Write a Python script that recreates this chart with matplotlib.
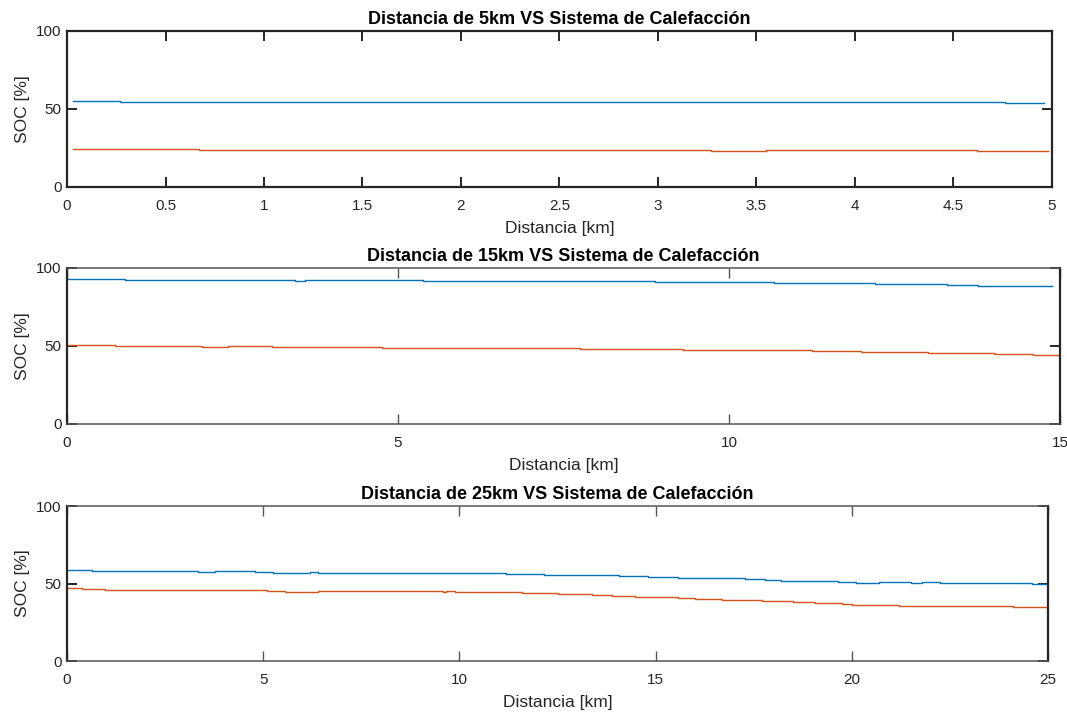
import matplotlib.pyplot as plt
import numpy as np

plt.rcParams["font.family"] = ["Liberation Sans", "DejaVu Sans"]

# --- DATA (step profiles) ---
# 5 km
d5_x_blue = [0.03, 0.27, 0.85, 4.76, 4.96]
d5_soc_blue = [55.0, 54.6, 54.2, 53.8, 53.8]
d5_x_orange = [0.03, 0.24, 0.67, 3.27, 3.55, 4.62, 4.98]
d5_soc_orange = [24.5, 24.1, 23.7, 23.3, 23.7, 23.3, 23.3]

# 15 km
d15_x_blue = [0.0, 0.88, 3.45, 3.6, 4.79, 5.38, 6.5, 6.6, 8.88, 10.68, 12.2, 13.3, 13.76, 14.6, 14.88]
d15_soc_blue = [92.9, 92.4, 91.9, 92.4, 92.0, 91.6, 91.9, 91.6, 91.1, 90.5, 89.8, 89.2, 88.7, 88.2, 88.2]
d15_x_orange = [0.0, 0.73, 2.04, 2.43, 3.1, 4.76, 5.29, 7.75, 8.0, 9.3, 11.25, 12.0, 13.0, 13.46, 14.0, 14.6, 14.97]
d15_soc_orange = [50.8, 50.1, 49.5, 50.0, 49.4, 48.9, 48.4, 48.0, 47.9, 47.4, 46.8, 46.3, 45.8, 45.3, 44.9, 44.3, 44.3]

# 25 km
d25_x_blue = [0.0, 0.63, 3.35, 3.77, 4.79, 5.26, 6.2, 6.4, 8.87, 11.2, 12.16, 13.2, 14.07, 14.8, 15.57,
              17.28, 17.79, 18.2, 18.93, 19.65, 20.1, 20.7, 21.5, 21.8, 22.25, 24.6, 25.0]
d25_soc_blue = [58.7, 58.1, 57.5, 58.1, 57.5, 57.0, 57.4, 57.1, 56.7, 56.2, 55.8, 55.3, 54.8, 54.2, 53.6,
                52.9, 52.5, 51.8, 51.4, 50.8, 50.3, 50.8, 50.3, 50.8, 50.1, 49.5, 49.5]
d25_x_orange = [0.0, 0.37, 0.97, 5.1, 5.55, 6.4, 9.58, 9.66, 9.89, 11.6, 12.5, 13.38, 13.9, 14.47, 14.93,
                15.57, 16.0, 16.7, 17.7, 18.5, 19.05, 19.1, 19.75, 20.0, 20.5, 21.2, 24.1, 25.0]
d25_soc_orange = [47.0, 46.3, 45.8, 44.9, 44.5, 44.9, 44.4, 44.9, 44.3, 43.7, 43.2, 42.6, 42.1, 41.5, 41.1,
                  40.5, 40.0, 39.6, 38.7, 38.0, 37.6, 37.4, 36.8, 36.3, 36.0, 35.5, 34.7, 34.7]

blue = "#0072BD"
orange = "#D95319"
dark = "#262626"

fig = plt.figure(figsize=(10.67, 7.15), dpi=100)

panels = [
    # (rect, title, x_blue, y_blue, x_orange, y_orange, xticks, xmax, light top/bottom)
    ([0.0628, 0.7385, 0.9231, 0.2182], "Distancia de 5km VS Sistema de Calefacción",
     d5_x_blue, d5_soc_blue, d5_x_orange, d5_soc_orange, np.arange(0, 5.01, 0.5), 5, False),
    ([0.0628, 0.4070, 0.9306, 0.2182], "Distancia de 15km VS Sistema de Calefacción",
     d15_x_blue, d15_soc_blue, d15_x_orange, d15_soc_orange, np.arange(0, 16, 5), 15, True),
    ([0.0628, 0.0755, 0.9194, 0.2168], "Distancia de 25km VS Sistema de Calefacción",
     d25_x_blue, d25_soc_blue, d25_x_orange, d25_soc_orange, np.arange(0, 26, 5), 25, True),
]

for rect, title, xb, yb, xo, yo, xticks, xmax, light in panels:
    ax = fig.add_axes(rect)
    ax.plot(xb, yb, color=blue, lw=1.0, drawstyle="steps-post")
    ax.plot(xo, yo, color=orange, lw=1.0, drawstyle="steps-post")

    ax.set_xlim(0, xmax)
    ax.set_ylim(0, 100)
    ax.set_xticks(xticks)
    ax.set_xticklabels([f"{t:g}" for t in xticks])
    ax.set_yticks([0, 50, 100])

    ax.set_title(title, fontsize=13, fontweight="bold", pad=5, color="black")
    ax.set_xlabel("Distancia [km]", fontsize=12.5, color=dark, labelpad=6)
    ax.set_ylabel("SOC [%]", fontsize=12.5, color=dark, labelpad=4)

    ax.tick_params(axis="both", direction="in", top=True, right=True,
                   length=7.5, width=1.4, labelsize=11, colors=dark)
    ax.tick_params(axis="x", pad=8.5)
    ax.tick_params(axis="y", pad=4)
    for side in ["left", "right", "top", "bottom"]:
        ax.spines[side].set_color(dark)
        ax.spines[side].set_linewidth(1.6)
    if light:
        for side in ["top", "bottom"]:
            ax.spines[side].set_color("#555555")
            ax.spines[side].set_linewidth(1.1)
        ax.tick_params(axis="x", width=1.0, color="#555555")

plt.savefig("out.png", dpi=100)
